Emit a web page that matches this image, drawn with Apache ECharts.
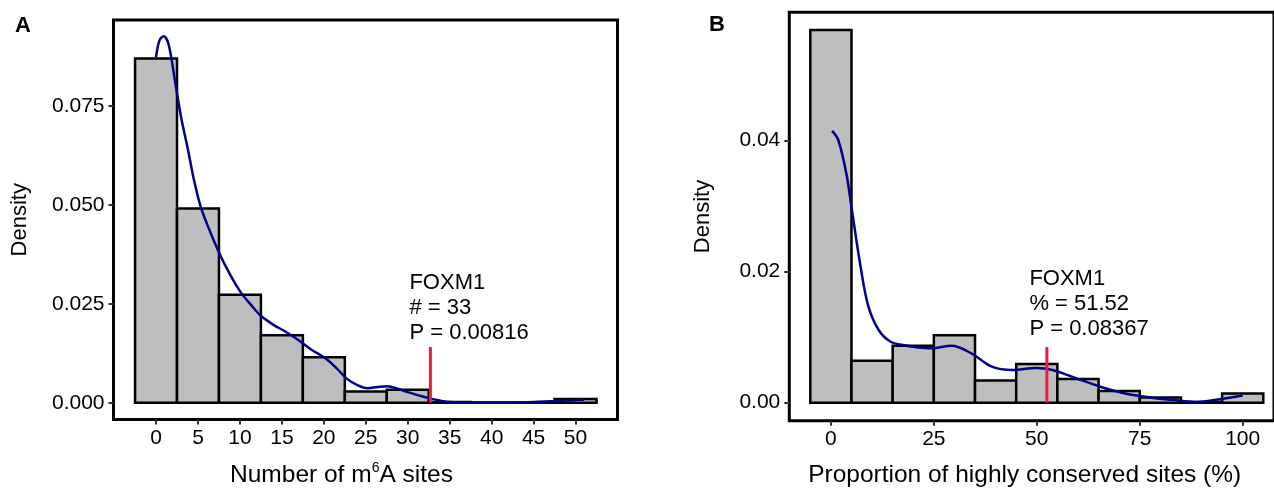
<!DOCTYPE html>
<html>
<head>
<meta charset="utf-8">
<script src="https://cdn.jsdelivr.net/npm/echarts@6/dist/echarts.min.js"></script>
<style>
html, body { margin: 0; padding: 0; background: #fff; }
#chart { width: 1274px; height: 493px; }
</style>
</head>
<body>
<div id="chart"></div>
<script>
// panel A: number of m6A sites per gene
var binsA = [0, 5, 10, 15, 20, 25, 30, 35, 40, 45, 50];
var densA = [0.0870, 0.0491, 0.0273, 0.0171, 0.0115, 0.0029, 0.0033, 0.0002, 0.0001, 0.0001, 0.0010];
var curveAx = [0, 0.4, 0.9, 1.5, 2.3, 3.0, 3.8, 4.5, 5.3, 6.3, 7.5, 8.8, 10.1, 11.3, 12.5, 14.0, 15.5, 17.0, 18.4, 20.3, 21.5, 22.8, 24.0, 25.2, 26.4, 27.6, 28.8, 30.0, 31.3, 32.5, 33.8, 35.0, 37.5, 40, 42.5, 45, 47, 49, 51];
var curveAy = [0.0873, 0.0915, 0.0926, 0.0905, 0.0807, 0.0720, 0.0640, 0.0565, 0.0497, 0.0440, 0.0380, 0.0325, 0.0279, 0.0248, 0.0220, 0.0197, 0.0179, 0.0158, 0.0136, 0.0111, 0.0088, 0.0060, 0.0045, 0.0037, 0.0040, 0.0042, 0.0036, 0.0027, 0.0019, 0.0012, 0.0006, 0.0002, 0.0001, 0.0001, 0.0001, 0.0002, 0.0004, 0.0006, 0.0008];
var ticksAx = [0, 5, 10, 15, 20, 25, 30, 35, 40, 45, 50];
var ticksAy = [0, 0.025, 0.05, 0.075];
var markA = { x: 32.7, top: 0.0141, textX: 30.2, textY: 0.0145 };
var textA = ['FOXM1', '# = 33', 'P = 0.00816'];

// panel B: proportion of highly conserved sites
var binsB = [0, 10, 20, 30, 40, 50, 60, 70, 80, 90, 100];
var densB = [0.0569, 0.0064, 0.0087, 0.0103, 0.0034, 0.0059, 0.0036, 0.0018, 0.0008, 0.0001, 0.0014];
var curveBx = [0.3, 1.8, 3.75, 5.2, 7.2, 9.1, 11.6, 14.5, 17.5, 20.4, 24.4, 29.3, 34.2, 39.1, 44, 49.9, 53.8, 59.7, 65.6, 71.5, 77.4, 83.3, 88.2, 93.1, 100];
var curveBy = [0.0415, 0.0401, 0.035, 0.029, 0.0208, 0.0147, 0.0111, 0.0093, 0.0088, 0.0085, 0.0083, 0.0087, 0.0075, 0.0055, 0.005, 0.0053, 0.005, 0.0037, 0.0024, 0.0014, 0.0008, 0.0004, 0.0001, 0.0004, 0.0011];
var ticksBx = [0, 25, 50, 75, 100];
var ticksBy = [0, 0.02, 0.04];
var markB = { x: 52.45, top: 0.0085, textX: 48.2, textY: 0.0093 };
var textB = ['FOXM1', '% = 51.52', 'P = 0.08367'];

var FONT = "'Liberation Sans', Arial, Helvetica, sans-serif";
var chart = echarts.init(document.getElementById('chart'), null, { renderer: 'canvas' });

function zip(xs, ys) {
    return xs.map(function (x, i) { return [x, ys[i]]; });
}

function histSeries(idx, bins, dens, width) {
    return {
        type: 'custom',
        xAxisIndex: idx, yAxisIndex: idx,
        data: zip(bins, dens),
        renderItem: function (params, api) {
            var x = api.value(0), y = api.value(1);
            var p0 = api.coord([x - width / 2, y]);
            var p1 = api.coord([x + width / 2, 0]);
            return {
                type: 'rect',
                shape: { x: p0[0], y: p0[1], width: p1[0] - p0[0], height: p1[1] - p0[1] },
                style: { fill: '#bebebe', stroke: '#000', lineWidth: 2.5 }
            };
        },
        z: 2
    };
}

function curveSeries(idx, xs, ys) {
    return {
        type: 'line', xAxisIndex: idx, yAxisIndex: idx,
        data: zip(xs, ys), smooth: 0.35, symbol: 'none',
        lineStyle: { color: '#00008b', width: 2.5 }, z: 3
    };
}

function markSeries(idx, m) {
    return {
        type: 'line', xAxisIndex: idx, yAxisIndex: idx,
        data: [[m.x, 0], [m.x, m.top]], symbol: 'none',
        lineStyle: { color: '#f0183f', width: 3 }, z: 4
    };
}

function textSeries(idx, m, lines) {
    return {
        type: 'scatter', xAxisIndex: idx, yAxisIndex: idx,
        data: [[m.textX, m.textY]], symbolSize: 0,
        label: {
            show: true, position: [0, 0], align: 'left', verticalAlign: 'bottom',
            formatter: lines.join('\n'),
            fontFamily: FONT, fontSize: 22, lineHeight: 25, color: '#000', opacity: 1
        },
        z: 5
    };
}

function xAxis(idx, min, max, ticks, name, rich, pad) {
    return {
        type: 'value', gridIndex: idx, min: min, max: max,
        splitLine: { show: false },
        axisLine: { show: false, onZero: false },
        axisTick: { show: true, customValues: ticks, length: 5, lineStyle: { color: '#333', width: 2 } },
        axisLabel: { customValues: ticks, margin: 8, fontFamily: FONT, fontSize: 21, color: '#000' },
        name: name, nameLocation: 'middle', nameGap: 42,
        nameTextStyle: { fontFamily: FONT, fontSize: 24.5, color: '#000', padding: pad, rich: rich }
    };
}

function yAxis(idx, min, max, ticks, digits, gap) {
    return {
        type: 'value', gridIndex: idx, min: min, max: max,
        splitLine: { show: false },
        axisLine: { show: false, onZero: false },
        axisTick: { show: true, customValues: ticks, length: 5, lineStyle: { color: '#333', width: 2 } },
        axisLabel: {
            customValues: ticks, margin: 9, fontFamily: FONT, fontSize: 21, color: '#000',
            formatter: function (v) { return v.toFixed(digits); }
        },
        name: 'Density', nameLocation: 'middle', nameGap: gap, nameRotate: 90,
        nameTextStyle: { fontFamily: FONT, fontSize: 22, color: '#000' }
    };
}

var supRich = {
    a: { fontFamily: FONT, fontSize: 24.5, color: '#000', lineHeight: 28 },
    s: { fontFamily: FONT, fontSize: 14, color: '#000', verticalAlign: 'top', lineHeight: 14 }
};

var option = {
    animation: false,
    backgroundColor: '#fff',
    grid: [
        { left: 113.5, top: 20, width: 504, height: 400.7, show: true, borderColor: '#000', borderWidth: 3, backgroundColor: 'transparent' },
        { left: 789.3, top: 12.3, width: 486, height: 408.4, show: true, borderColor: '#000', borderWidth: 3, backgroundColor: 'transparent' }
    ],
    xAxis: [
        xAxis(0, -5.07, 55.0, ticksAx, '{a|Number of m}{s|6}{a|A sites}', supRich, [0, 48, 0, 0]),
        xAxis(1, -10.1, 107.6, ticksBx, 'Proportion of highly conserved sites (%)', null, [0, 14, 0, 0])
    ],
    yAxis: [
        yAxis(0, -0.0042, 0.0967, ticksAy, 3, 83),
        yAxis(1, -0.00275, 0.0596, ticksBy, 2, 75)
    ],
    graphic: [
        { type: 'text', left: 15, top: 15, style: { text: 'A', font: 'bold 22px ' + FONT, fill: '#000' } },
        { type: 'text', left: 709, top: 14, style: { text: 'B', font: 'bold 22px ' + FONT, fill: '#000' } }
    ],
    series: [
        histSeries(0, binsA, densA, 5),
        curveSeries(0, curveAx, curveAy),
        markSeries(0, markA),
        textSeries(0, markA, textA),
        histSeries(1, binsB, densB, 10),
        curveSeries(1, curveBx, curveBy),
        markSeries(1, markB),
        textSeries(1, markB, textB)
    ]
};
chart.setOption(option);
</script>
</body>
</html>
